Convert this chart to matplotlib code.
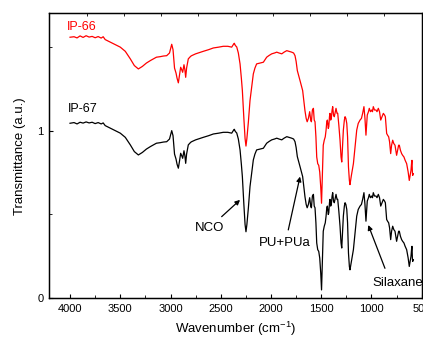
import matplotlib
matplotlib.use("Agg")
import matplotlib.pyplot as plt
from matplotlib.ticker import MultipleLocator, NullFormatter

plt.rcParams['font.family'] = ['Liberation Sans', 'DejaVu Sans']
plt.rcParams['mathtext.default'] = 'regular'

wavenumber = [
    4000, 3960, 3930, 3900, 3870, 3840, 3810, 3780, 3750, 3720,
    3690, 3670, 3650, 3600, 3550, 3500, 3450, 3400, 3360, 3320,
    3280, 3240, 3200, 3170, 3140, 3104, 3070, 3038, 3010, 2995,
    2988, 2975, 2960, 2945, 2935, 2922, 2910, 2899, 2888, 2879,
    2866, 2857, 2849, 2840, 2823, 2800, 2790, 2750, 2700, 2674,
    2620, 2574, 2520, 2475, 2430, 2391, 2370, 2365, 2355, 2341,
    2325, 2308, 2295, 2285, 2270, 2258, 2249, 2240, 2225, 2209,
    2190, 2176, 2160, 2143, 2109, 2076, 2060, 2043, 2020, 1993,
    1965, 1943, 1920, 1893, 1870, 1843, 1820, 1794, 1775, 1761,
    1750, 1738, 1725, 1711, 1700, 1685, 1672, 1662, 1650, 1640,
    1628, 1615, 1605, 1598, 1588, 1578, 1570, 1562, 1553, 1545,
    1535, 1525, 1515, 1505, 1497, 1490, 1480, 1470, 1460, 1452,
    1445, 1439, 1430, 1425, 1418, 1413, 1406, 1400, 1392, 1386,
    1378, 1370, 1360, 1353, 1343, 1336, 1325, 1313, 1303, 1296,
    1288, 1280, 1270, 1263, 1255, 1246, 1238, 1229, 1220, 1214,
    1200, 1180, 1165, 1147, 1132, 1114, 1100, 1088, 1075, 1065,
    1055, 1048, 1042, 1030, 1022, 1010, 998, 990, 982, 970,
    955, 945, 932, 920, 908, 895, 882, 870, 862, 849,
    840, 829, 820, 809, 800, 789, 778, 766, 758, 750,
    740, 730, 723, 712, 700, 690, 677, 665, 650, 635,
    624, 615, 607, 600, 597, 593, 590, 584,
]

t_ip67 = [
    1.044, 1.048, 1.040, 1.050, 1.045, 1.052, 1.046, 1.050, 1.042, 1.048,
    1.040, 1.046, 1.030, 1.015, 1.000, 0.985, 0.960, 0.915, 0.875, 0.855,
    0.870, 0.890, 0.905, 0.915, 0.925, 0.928, 0.932, 0.934, 0.950, 0.985,
    1.000, 0.970, 0.860, 0.830, 0.800, 0.776, 0.820, 0.865, 0.850, 0.835,
    0.880, 0.850, 0.805, 0.860, 0.915, 0.930, 0.934, 0.945, 0.955, 0.960,
    0.970, 0.980, 0.985, 0.990, 0.990, 0.985, 1.005, 1.008, 0.995, 0.986,
    0.950, 0.885, 0.800, 0.726, 0.560, 0.440, 0.397, 0.440, 0.540, 0.666,
    0.760, 0.825, 0.860, 0.885, 0.890, 0.895, 0.910, 0.925, 0.935, 0.945,
    0.950, 0.955, 0.950, 0.945, 0.955, 0.964, 0.960, 0.955, 0.950, 0.934,
    0.900, 0.845, 0.815, 0.785, 0.760, 0.726, 0.660, 0.606, 0.560, 0.540,
    0.560, 0.600, 0.550, 0.540, 0.610, 0.620, 0.550, 0.540, 0.450, 0.330,
    0.290, 0.280, 0.240, 0.150, 0.050, 0.200, 0.400, 0.430, 0.450, 0.490,
    0.540, 0.550, 0.500, 0.510, 0.570, 0.590, 0.550, 0.560, 0.610, 0.630,
    0.580, 0.570, 0.600, 0.620, 0.590, 0.590, 0.520, 0.430, 0.330, 0.300,
    0.400, 0.490, 0.550, 0.570, 0.560, 0.530, 0.450, 0.270, 0.190, 0.170,
    0.220, 0.290, 0.380, 0.490, 0.530, 0.550, 0.560, 0.590, 0.630, 0.560,
    0.460, 0.520, 0.580, 0.600, 0.620, 0.600, 0.610, 0.600, 0.630, 0.610,
    0.610, 0.600, 0.620, 0.600, 0.550, 0.570, 0.590, 0.580, 0.570, 0.470,
    0.460, 0.450, 0.420, 0.350, 0.400, 0.430, 0.410, 0.400, 0.370, 0.340,
    0.370, 0.400, 0.400, 0.370, 0.350, 0.340, 0.330, 0.310, 0.290, 0.240,
    0.190, 0.220, 0.250, 0.300, 0.310, 0.240, 0.220, 0.230,
]

t_ip66 = [
    1.557, 1.560, 1.553, 1.565, 1.556, 1.566, 1.558, 1.562, 1.554, 1.561,
    1.552, 1.560, 1.543, 1.528, 1.513, 1.498, 1.473, 1.428, 1.388, 1.368,
    1.383, 1.403, 1.418, 1.428, 1.438, 1.441, 1.445, 1.447, 1.463, 1.498,
    1.515, 1.483, 1.373, 1.343, 1.313, 1.285, 1.333, 1.378, 1.363, 1.348,
    1.393, 1.363, 1.318, 1.373, 1.428, 1.443, 1.447, 1.458, 1.468, 1.473,
    1.483, 1.493, 1.498, 1.503, 1.503, 1.498, 1.518, 1.521, 1.508, 1.499,
    1.463, 1.398, 1.313, 1.239, 1.073, 0.953, 0.908, 0.953, 1.053, 1.179,
    1.273, 1.338, 1.373, 1.398, 1.403, 1.408, 1.423, 1.438, 1.448, 1.458,
    1.463, 1.468, 1.463, 1.458, 1.468, 1.477, 1.473, 1.468, 1.463, 1.447,
    1.413, 1.358, 1.328, 1.298, 1.273, 1.239, 1.173, 1.119, 1.073, 1.053,
    1.073, 1.113, 1.063, 1.053, 1.123, 1.133, 1.063, 1.053, 0.963, 0.843,
    0.803, 0.793, 0.753, 0.663, 0.567, 0.713, 0.913, 0.943, 0.963, 1.003,
    1.053, 1.063, 1.013, 1.023, 1.083, 1.103, 1.063, 1.073, 1.123, 1.143,
    1.093, 1.083, 1.113, 1.133, 1.103, 1.103, 1.033, 0.943, 0.843, 0.813,
    0.913, 1.003, 1.063, 1.083, 1.073, 1.043, 0.963, 0.783, 0.703, 0.678,
    0.733, 0.803, 0.893, 1.003, 1.043, 1.063, 1.073, 1.103, 1.143, 1.073,
    0.973, 1.033, 1.093, 1.113, 1.133, 1.113, 1.123, 1.113, 1.143, 1.123,
    1.123, 1.113, 1.133, 1.113, 1.063, 1.083, 1.103, 1.093, 1.083, 0.983,
    0.973, 0.963, 0.933, 0.863, 0.913, 0.943, 0.923, 0.913, 0.883, 0.853,
    0.883, 0.913, 0.913, 0.883, 0.863, 0.853, 0.843, 0.823, 0.803, 0.753,
    0.703, 0.733, 0.763, 0.813, 0.823, 0.753, 0.733, 0.743,
]

series_labels = ["IP-66", "IP-67"]
annotations = ["NCO", "PU+PUa", "Silaxane"]
x_ticks = [4000, 3500, 3000, 2500, 2000, 1500, 1000, 500]
y_ticks = [0, 1]

fig = plt.figure(figsize=(4.23, 3.40), dpi=100)
ax = fig.add_axes([0.1166, 0.1226, 0.8804, 0.8384])

ax.plot(wavenumber, t_ip66, color='#ff0000', lw=0.9)
ax.plot(wavenumber, t_ip67, color='black', lw=0.9)

ax.set_xlim(4206, 500)
ax.set_ylim(0, 1.70)
ax.set_xticks(x_ticks)
ax.set_xticklabels([str(v) for v in x_ticks])
ax.xaxis.set_minor_locator(MultipleLocator(250))
ax.set_yticks(y_ticks)
ax.set_yticklabels([str(v) for v in y_ticks])
ax.yaxis.set_minor_locator(MultipleLocator(0.5))
ax.tick_params(axis='both', which='major', direction='in', length=3, width=0.8,
               labelsize=8, pad=4)
ax.tick_params(axis='both', which='minor', direction='in', length=2, width=0.6)
for s in ax.spines.values():
    s.set_linewidth(1.0)

ax2 = ax.twiny()
ax2.set_xlim(0, 10)
ax2.set_xticks(range(1, 10))
ax2.xaxis.set_major_formatter(NullFormatter())
ax2.tick_params(axis='x', direction='in', length=2.5, width=0.6)

ax.set_xlabel("Wavenumber (cm$^{-1}$)", fontsize=9.5, labelpad=4)
ax.set_ylabel("Transmittance (a.u.)", fontsize=9.5, labelpad=8)

ax.text(4030, 1.619, series_labels[0], color='#ff0000', fontsize=9,
        ha='left', va='center')
ax.text(4020, 1.129, series_labels[1], color='black', fontsize=9,
        ha='left', va='center')

arrow = dict(arrowstyle='-|>', color='black', lw=0.9, mutation_scale=7,
             shrinkA=0, shrinkB=0)
ax.annotate("", xy=(2308, 0.587), xytext=(2491, 0.487), arrowprops=arrow)
ax.text(2612, 0.418, annotations[0], fontsize=9.5, ha='center', va='center')
ax.annotate("", xy=(1711, 0.726), xytext=(1828, 0.408), arrowprops=arrow)
ax.text(1861, 0.332, annotations[1], fontsize=9.5, ha='center', va='center')
ax.annotate("", xy=(1032, 0.437), xytext=(866, 0.179), arrowprops=arrow)
ax.text(740, 0.093, annotations[2], fontsize=9.5, ha='center', va='center')

fig.savefig("out.png", dpi=100)
